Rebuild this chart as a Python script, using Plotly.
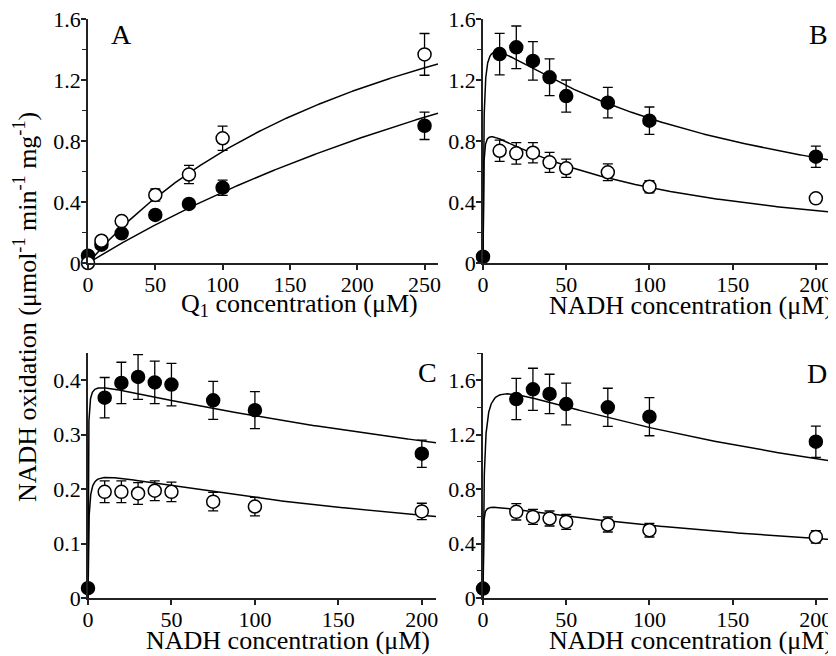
import numpy as np
import plotly.graph_objects as go

# ---------------- data ----------------
# Panel A (Q1 concentration)
a_x = [0, 10, 25, 50, 75, 100, 250]
a_filled = [0.048, 0.12, 0.195, 0.315, 0.387, 0.494, 0.90]
a_filled_err = [0.0, 0.015, 0.015, 0.02, 0.02, 0.05, 0.09]
a_open = [0.0, 0.146, 0.275, 0.446, 0.58, 0.818, 1.368]
a_open_err = [0.0, 0.02, 0.02, 0.04, 0.06, 0.08, 0.137]

# Panel B
b_x_filled = [0, 10, 20, 30, 40, 50, 75, 100, 200]
b_filled = [0.041, 1.37, 1.414, 1.325, 1.218, 1.095, 1.051, 0.933, 0.697]
b_filled_err = [0.0, 0.136, 0.14, 0.126, 0.12, 0.105, 0.10, 0.09, 0.07]
b_x_open = [10, 20, 30, 40, 50, 75, 100, 200]
b_open = [0.736, 0.719, 0.723, 0.66, 0.621, 0.595, 0.50, 0.424]
b_open_err = [0.07, 0.07, 0.067, 0.066, 0.06, 0.055, 0.04, 0.02]

# Panel C
c_x_filled = [0, 10, 20, 30, 40, 50, 75, 100, 200]
c_filled = [0.018, 0.368, 0.395, 0.406, 0.396, 0.392, 0.363, 0.345, 0.265]
c_filled_err = [0.0, 0.037, 0.038, 0.041, 0.039, 0.039, 0.035, 0.034, 0.025]
c_x_open = [10, 20, 30, 40, 50, 75, 100, 200]
c_open = [0.195, 0.195, 0.192, 0.197, 0.195, 0.177, 0.168, 0.159]
c_open_err = [0.02, 0.02, 0.02, 0.018, 0.018, 0.017, 0.017, 0.015]

# Panel D
d_x_filled = [0, 20, 30, 40, 50, 75, 100, 200]
d_filled = [0.069, 1.462, 1.533, 1.499, 1.425, 1.401, 1.332, 1.148]
d_filled_err = [0.0, 0.152, 0.155, 0.145, 0.153, 0.14, 0.14, 0.115]
d_x_open = [20, 30, 40, 50, 75, 100, 200]
d_open = [0.633, 0.596, 0.584, 0.559, 0.54, 0.498, 0.449]
d_open_err = [0.06, 0.055, 0.055, 0.055, 0.055, 0.05, 0.045]

# fitted-curve parameters
a_fit_open = [2.56, 250.0]          # Vmax, Km (Michaelis-Menten)
a_fit_filled = [3.25, 600.0]
b_fit_filled = [1.52, 0.40, 167.0]  # Vmax, Km, Ki (substrate inhibition)
b_fit_open = [0.896, 0.21, 124.0]
c_fit_filled = [0.398, 0.127, 529.0]
c_fit_open = [0.236, 0.389, 362.5]
d_fit_filled = [1.629, 0.63, 340.0]
d_fit_open = [0.691, 0.12, 343.6]

# tick settings
x_ticks = [0, 50, 100, 150, 200, 250]
a_yticks = [0, 0.4, 0.8, 1.2, 1.6]
a_ytext = ["0", "0.4", "0.8", "1.2", "1.6"]
c_yticks = [0, 0.1, 0.2, 0.3, 0.4]
c_ytext = ["0", "0.1", "0.2", "0.3", "0.4"]

FONT = "Liberation Serif"


def mm(s, p):
    return p[0] * s / (p[1] + s)


def si(s, p):
    return p[0] * s / (p[1] + s + s * s / p[2])


s_a = np.linspace(0, 260, 400)
s_n = np.concatenate([np.linspace(0, 5, 200), np.linspace(5, 208.5, 300)[1:]])

fig = go.Figure()


def add_curve(x, y, ax):
    fig.add_trace(go.Scatter(x=x, y=y, mode="lines", line=dict(color="black", width=1.5),
                             xaxis="x" + ax, yaxis="y" + ax, showlegend=False,
                             hoverinfo="skip", cliponaxis=True))


def add_points(x, y, err, ax, filled):
    fig.add_trace(go.Scatter(
        x=x, y=y, mode="markers", xaxis="x" + ax, yaxis="y" + ax, showlegend=False,
        error_y=dict(type="data", array=err, visible=True, color="black", thickness=1.3, width=5),
        marker=dict(size=13, symbol="circle",
                    color="black" if filled else "white",
                    line=dict(color="black", width=1.5)),
        cliponaxis=False))


# A
add_curve(s_a, mm(s_a, a_fit_open), "")
add_curve(s_a, mm(s_a, a_fit_filled), "")
add_points(a_x, a_filled, a_filled_err, "", True)
add_points(a_x, a_open, a_open_err, "", False)
# B
add_curve(s_n, si(s_n, b_fit_filled), "2")
add_curve(s_n, si(s_n, b_fit_open), "2")
add_points(b_x_filled, b_filled, b_filled_err, "2", True)
add_points(b_x_open, b_open, b_open_err, "2", False)
# C
add_curve(s_n, si(s_n, c_fit_filled), "3")
add_curve(s_n, si(s_n, c_fit_open), "3")
add_points(c_x_open, c_open, c_open_err, "3", False)
add_points(c_x_filled, c_filled, c_filled_err, "3", True)
# D
add_curve(s_n, si(s_n, d_fit_filled), "4")
add_curve(s_n, si(s_n, d_fit_open), "4")
add_points(d_x_open, d_open, d_open_err, "4", False)
add_points(d_x_filled, d_filled, d_filled_err, "4", True)

W, H = 836, 656
OFF = 8  # page body margin


def px_x(a, b):
    return [(a - OFF) / W, (b - OFF) / W]


def px_y(top, bottom):
    return [1 - (bottom - OFF) / H, 1 - (top - OFF) / H]


axis_common = dict(showline=True, linecolor="#222", linewidth=1.8, ticks="outside",
                   ticklen=5, tickwidth=1.5, tickcolor="#222", showgrid=False,
                   zeroline=False, mirror=False, automargin=False, ticklabelstandoff=-4,
                   ticklabeloverflow="allow",
                   tickfont=dict(family=FONT, size=22, color="black"))
minor_y = dict(dtick=0.2, ticks="outside", ticklen=4, tickcolor="#222", tickwidth=1.3)

fig.update_layout(
    template="none",
    width=W, height=H, margin=dict(l=0, r=0, t=0, b=0, pad=0, autoexpand=False),
    paper_bgcolor="white", plot_bgcolor="white",
    xaxis=dict(domain=px_x(88, 438), range=[0, 260], tickvals=x_ticks, anchor="y", **axis_common),
    yaxis=dict(domain=px_y(19, 263), range=[0, 1.6], tickvals=a_yticks, anchor="x",
               ticktext=a_ytext, minor=minor_y, **axis_common),
    xaxis2=dict(domain=px_x(483, 830), range=[0, 208.5], tickvals=x_ticks[:5], anchor="y2", **axis_common),
    yaxis2=dict(domain=px_y(19, 263), range=[0, 1.6], tickvals=a_yticks, anchor="x2",
                ticktext=a_ytext, minor=minor_y, **axis_common),
    xaxis3=dict(domain=px_x(88, 436), range=[0, 208.5], tickvals=x_ticks[:5], anchor="y3", **axis_common),
    yaxis3=dict(domain=px_y(353, 598), range=[0, 0.45], tickvals=c_yticks, anchor="x3",
                ticktext=c_ytext, **axis_common),
    xaxis4=dict(domain=px_x(483, 830), range=[0, 208.5], tickvals=x_ticks[:5], anchor="y4", **axis_common),
    yaxis4=dict(domain=px_y(353, 598), range=[0, 1.8], tickvals=a_yticks, anchor="x4",
                ticktext=a_ytext, minor=minor_y, **axis_common),
)

ann = []


def text(x, y, t, size, xanchor="center", yanchor="middle", angle=0):
    ann.append(dict(x=(x - OFF) / W, y=1 - (y - OFF) / H, xref="paper", yref="paper", text=t,
                    showarrow=False, xanchor=xanchor, yanchor=yanchor, textangle=angle,
                    font=dict(family=FONT, size=size, color="black")))


text(121, 35, "A", 28)
text(818, 35, "B", 28)
text(428, 372, "C", 28)
text(817, 373, "D", 28)
text(420, 305, "Q<sub>1</sub> concentration (μM)", 26, xanchor="right")
text(835, 305, "NADH concentration (μM)", 26, xanchor="right")
text(432, 640, "NADH concentration (μM)", 26, xanchor="right")
text(835, 640, "NADH concentration (μM)", 26, xanchor="right")
text(25, 307, "NADH oxidation (μmol<sup>-1</sup> min<sup>-1</sup> mg<sup>-1</sup>)", 26, angle=-90)
fig.update_layout(annotations=ann)

fig.write_html("out.html")
